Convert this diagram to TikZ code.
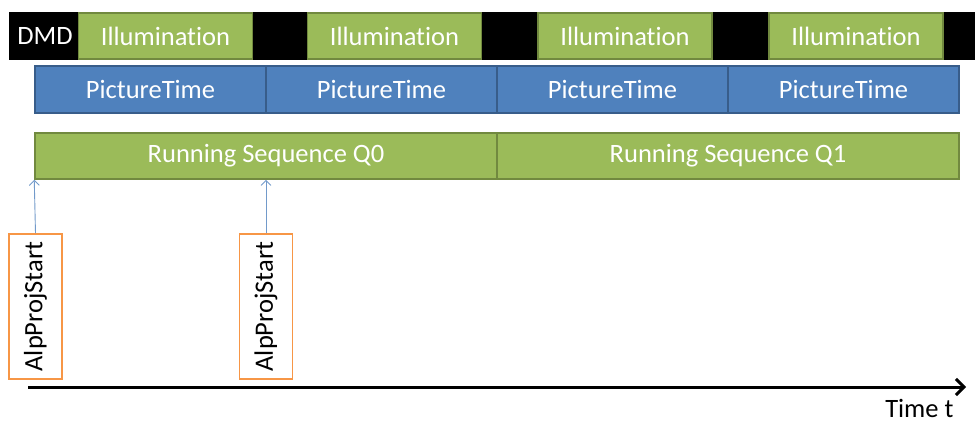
\documentclass[tikz,border=0pt]{standalone}
\usepackage{fontspec}
\setmainfont{Carlito}[Ligatures={NoCommon}]
\usetikzlibrary{arrows.meta}
\definecolor{illgreen}{HTML}{9BBB59}
\definecolor{illgreenborder}{HTML}{71893F}
\definecolor{picblue}{HTML}{4F81BD}
\definecolor{picblueborder}{HTML}{385D8A}
\definecolor{alporange}{HTML}{F79646}
\begin{document}
\begin{tikzpicture}[x=1pt, y=-1pt,
        every node/.style={font=\fontsize{26.5}{30}\selectfont},
        illum/.style={draw=illgreenborder, fill=illgreen, line width=1.5pt, text=white,
            minimum width=174pt, minimum height=46pt, inner sep=0pt},
        picbox/.style={draw=picblueborder, fill=picblue, line width=1.5pt, text=white,
            minimum width=231pt, minimum height=47pt, inner sep=0pt},
        seqbox/.style={draw=illgreenborder, fill=illgreen, line width=1.5pt, text=white,
            minimum width=462pt, minimum height=46pt, inner sep=0pt},
        startbox/.style={draw=alporange, fill=white, line width=1.8pt, rotate=90,
            minimum width=145pt, minimum height=53pt, inner sep=0pt},
        trigger/.style={draw=picblue!80!white, line width=0.9pt, -{Straight Barb[length=5pt, width=10pt]}}
    ]
    \useasboundingbox (0,0) rectangle (975,426);

    % DMD bar
    \fill[black] (9,12) rectangle (975,60);
    \node[text=white] (dmd) at (45,36) {DMD};

    % Illumination
    \node[illum] (ill1) at (165.5,36) {Illumination};
    \node[illum] (ill2) at (394.5,36) {Illumination};
    \node[illum] (ill3) at (625,36) {Illumination};
    \node[illum] (ill4) at (856,36) {Illumination};

    % PictureTime
    \node[picbox] (pic1) at (150.5,89.5) {PictureTime};
    \node[picbox] (pic2) at (381.5,89.5) {PictureTime};
    \node[picbox] (pic3) at (612.5,89.5) {PictureTime};
    \node[picbox] (pic4) at (843.5,89.5) {PictureTime};

    % Sequences
    \node[seqbox] (seq0) at (266,156) {Running Sequence Q0};
    \node[seqbox] (seq1) at (728,156) {Running Sequence Q1};

    % Start calls
    \node[startbox] (start1) at (35.5,306.5) {AlpProjStart};
    \node[startbox] (start2) at (266,306.5) {AlpProjStart};
    \draw[trigger] (start1.east) -- (seq0.south west);
    \draw[trigger] (start2.east) -- (seq0.south);

    % Time axis
    \coordinate (t0) at (28,387);
    \coordinate (t1) at (966,387);
    \draw[line width=3pt, -{Straight Barb[length=8pt, width=16pt]}] (t0) -- (t1);
    \node[anchor=north east] (time) at (957,396) {Time t};
\end{tikzpicture}
\end{document}
